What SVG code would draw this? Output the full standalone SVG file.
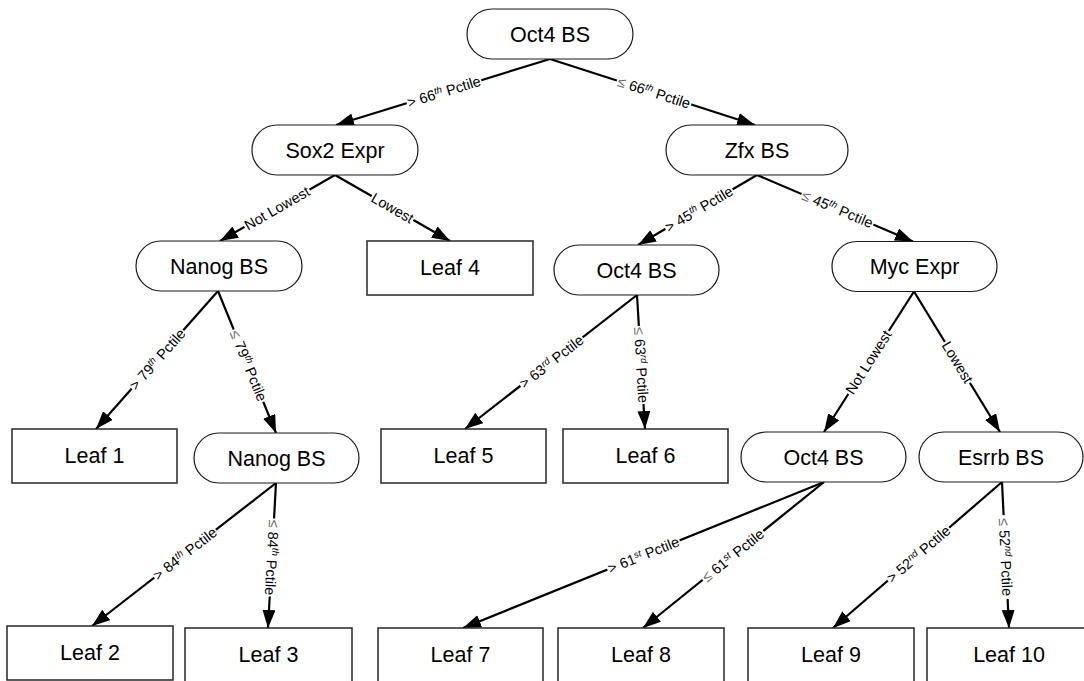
<svg xmlns="http://www.w3.org/2000/svg" width="1084" height="681" viewBox="0 0 1084 681">
  <style>
    .dec rect { fill: #fff; stroke: #1a1a1a; stroke-width: 1.2; }
    .leaf rect { fill: #fff; stroke: #262626; stroke-width: 1.5; }
    .nlabel { font-family: "Liberation Sans", Arial, sans-serif; font-size: 21.5px; fill: #000; text-anchor: middle; }
    .edge { stroke: #000; stroke-width: 2.2; fill: none; marker-end: url(#arrow); }
    .elabel text { font-family: "Liberation Sans", Arial, sans-serif; font-size: 14.5px; fill: #000; text-anchor: middle; }
    .elabel rect { fill: #fff; stroke: none; }
    .sup { font-size: 9.5px; font-style: italic; }
    .le { fill: #6a6a6a; }
  </style>
  <defs>
    <marker id="arrow" markerUnits="userSpaceOnUse" markerWidth="19" markerHeight="14" refX="18" refY="6.5" orient="auto">
      <path d="M0,0 L18,6.5 L0,13 Z" fill="#000"/>
    </marker>
  </defs>
  <rect width="1084" height="681" fill="#fff"/>

  <!-- connectors -->
  <g id="connectors">
    <line class="edge" x1="550" y1="59" x2="336" y2="125"/>
    <line class="edge" x1="550" y1="59" x2="755" y2="125"/>
    <line class="edge" x1="335" y1="175" x2="220" y2="241"/>
    <line class="edge" x1="335" y1="175" x2="450" y2="241"/>
    <line class="edge" x1="757" y1="175" x2="638" y2="245"/>
    <line class="edge" x1="757" y1="175" x2="913" y2="241.5"/>
    <line class="edge" x1="218" y1="291" x2="96" y2="429"/>
    <line class="edge" x1="218" y1="291" x2="276" y2="433"/>
    <line class="edge" x1="637" y1="295" x2="465" y2="429"/>
    <line class="edge" x1="637" y1="295" x2="645" y2="429"/>
    <line class="edge" x1="914" y1="291.5" x2="824" y2="432"/>
    <line class="edge" x1="914" y1="291.5" x2="1000" y2="432"/>
    <line class="edge" x1="276" y1="483" x2="92" y2="626"/>
    <line class="edge" x1="276" y1="483" x2="268" y2="628"/>
    <line class="edge" x1="824" y1="482" x2="463" y2="628"/>
    <line class="edge" x1="824" y1="482" x2="643" y2="628"/>
    <line class="edge" x1="1002" y1="482" x2="833" y2="628"/>
    <line class="edge" x1="1002" y1="482" x2="1009" y2="628"/>

    <!-- edge labels, each on a white backing that breaks the line -->
    <g class="elabel" transform="translate(444 91.7) rotate(-17.1)">
      <rect x="-39" y="-8" width="78" height="16"/>
      <text y="5">&gt; 66<tspan class="sup" dy="-5">th</tspan><tspan dy="5"> Pctile</tspan></text>
    </g>
    <g class="elabel" transform="translate(654 92.5) rotate(17.8)">
      <rect x="-39" y="-8" width="78" height="16"/>
      <text y="5"><tspan class="le">≤</tspan> 66<tspan class="sup" dy="-5">th</tspan><tspan dy="5"> Pctile</tspan></text>
    </g>
    <g class="elabel" transform="translate(277 208.3) rotate(-29.9)">
      <rect x="-37.5" y="-8" width="75" height="16"/>
      <text y="5">Not Lowest</text>
    </g>
    <g class="elabel" transform="translate(392.5 208) rotate(29.9)">
      <rect x="-24" y="-8" width="48" height="16"/>
      <text y="5">Lowest</text>
    </g>
    <g class="elabel" transform="translate(699 209.1) rotate(-30.5)">
      <rect x="-39" y="-8" width="78" height="16"/>
      <text y="5">&gt; 45<tspan class="sup" dy="-5">th</tspan><tspan dy="5"> Pctile</tspan></text>
    </g>
    <g class="elabel" transform="translate(837.5 209.1) rotate(22.9)">
      <rect x="-39" y="-8" width="78" height="16"/>
      <text y="5"><tspan class="le">≤</tspan> 45<tspan class="sup" dy="-5">th</tspan><tspan dy="5"> Pctile</tspan></text>
    </g>
    <g class="elabel" transform="translate(157.5 359.4) rotate(-48.5)">
      <rect x="-39" y="-8" width="78" height="16"/>
      <text y="5">&gt; 79<tspan class="sup" dy="-5">th</tspan><tspan dy="5"> Pctile</tspan></text>
    </g>
    <g class="elabel" transform="translate(248.5 365.7) rotate(67.8)">
      <rect x="-39" y="-8" width="78" height="16"/>
      <text y="5"><tspan class="le">≤</tspan> 79<tspan class="sup" dy="-5">th</tspan><tspan dy="5"> Pctile</tspan></text>
    </g>
    <g class="elabel" transform="translate(551.5 361.6) rotate(-37.9)">
      <rect x="-39.5" y="-8" width="79" height="16"/>
      <text y="5">&gt; 63<tspan class="sup" dy="-5">rd</tspan><tspan dy="5"> Pctile</tspan></text>
    </g>
    <g class="elabel" transform="translate(641.2 365) rotate(86.6)">
      <rect x="-39" y="-8" width="78" height="16"/>
      <text y="5"><tspan class="le">≤</tspan> 63<tspan class="sup" dy="-5">rd</tspan><tspan dy="5"> Pctile</tspan></text>
    </g>
    <g class="elabel" transform="translate(868.5 362.3) rotate(-57.4)">
      <rect x="-37.5" y="-8" width="75" height="16"/>
      <text y="5">Not Lowest</text>
    </g>
    <g class="elabel" transform="translate(957.5 362.3) rotate(58.6)">
      <rect x="-24" y="-8" width="48" height="16"/>
      <text y="5">Lowest</text>
    </g>
    <g class="elabel" transform="translate(185 553.7) rotate(-37.85)">
      <rect x="-39" y="-8" width="78" height="16"/>
      <text y="5">&gt; 84<tspan class="sup" dy="-5">th</tspan><tspan dy="5"> Pctile</tspan></text>
    </g>
    <g class="elabel" transform="translate(271.9 557.5) rotate(93.2)">
      <rect x="-39" y="-8" width="78" height="16"/>
      <text y="5"><tspan class="le">≤</tspan> 84<tspan class="sup" dy="-5">th</tspan><tspan dy="5"> Pctile</tspan></text>
    </g>
    <g class="elabel" transform="translate(643.5 555) rotate(-22)">
      <rect x="-39" y="-8" width="78" height="16"/>
      <text y="5">&gt; 61<tspan class="sup" dy="-5">st</tspan><tspan dy="5"> Pctile</tspan></text>
    </g>
    <g class="elabel" transform="translate(733 555.4) rotate(-38.9)">
      <rect x="-39" y="-8" width="78" height="16"/>
      <text y="5"><tspan class="le">≤</tspan> 61<tspan class="sup" dy="-5">st</tspan><tspan dy="5"> Pctile</tspan></text>
    </g>
    <g class="elabel" transform="translate(918.5 554.1) rotate(-40.8)">
      <rect x="-40.5" y="-8" width="81" height="16"/>
      <text y="5">&gt; 52<tspan class="sup" dy="-5">nd</tspan><tspan dy="5"> Pctile</tspan></text>
    </g>
    <g class="elabel" transform="translate(1005.6 557) rotate(87.3)">
      <rect x="-42" y="-8" width="84" height="16"/>
      <text y="5"><tspan class="le">≤</tspan> 52<tspan class="sup" dy="-5">nd</tspan><tspan dy="5">  Pctile</tspan></text>
    </g>
  </g>

  <!-- decision nodes -->
  <g id="n-oct4-root" class="dec"><rect x="467" y="9" width="166" height="50" rx="25"/><text class="nlabel" x="550" y="41.7">Oct4 BS</text></g>
  <g id="n-sox2" class="dec"><rect x="252" y="125" width="166" height="50" rx="25"/><text class="nlabel" x="335" y="157.7">Sox2 Expr</text></g>
  <g id="n-zfx" class="dec"><rect x="666" y="125" width="182" height="50" rx="25"/><text class="nlabel" x="757" y="157.7">Zfx BS</text></g>
  <g id="n-nanog-1" class="dec"><rect x="136" y="241" width="166" height="50" rx="25"/><text class="nlabel" x="219" y="273.7">Nanog BS</text></g>
  <g id="n-oct4-2" class="dec"><rect x="554" y="245" width="165" height="50" rx="25"/><text class="nlabel" x="636.5" y="277.7">Oct4 BS</text></g>
  <g id="n-myc" class="dec"><rect x="832" y="241.5" width="165" height="50" rx="25"/><text class="nlabel" x="914.5" y="274.2">Myc Expr</text></g>
  <g id="n-nanog-2" class="dec"><rect x="194" y="433" width="165" height="50" rx="25"/><text class="nlabel" x="276.5" y="465.7">Nanog BS</text></g>
  <g id="n-oct4-3" class="dec"><rect x="741" y="432" width="165" height="50" rx="25"/><text class="nlabel" x="823.5" y="464.7">Oct4 BS</text></g>
  <g id="n-esrrb" class="dec"><rect x="919" y="432" width="164" height="50" rx="25"/><text class="nlabel" x="1001" y="464.7">Esrrb BS</text></g>

  <!-- leaves -->
  <g id="leaf-1" class="leaf"><rect x="12" y="429" width="165" height="54"/><text class="nlabel" x="94.5" y="463">Leaf 1</text></g>
  <g id="leaf-2" class="leaf"><rect x="7" y="626" width="166" height="54"/><text class="nlabel" x="90" y="660">Leaf 2</text></g>
  <g id="leaf-3" class="leaf"><rect x="185" y="628" width="167" height="54"/><text class="nlabel" x="268.5" y="662">Leaf 3</text></g>
  <g id="leaf-4" class="leaf"><rect x="367" y="241" width="166" height="54"/><text class="nlabel" x="450" y="275">Leaf 4</text></g>
  <g id="leaf-5" class="leaf"><rect x="381" y="429" width="165" height="54"/><text class="nlabel" x="463.5" y="463">Leaf 5</text></g>
  <g id="leaf-6" class="leaf"><rect x="563" y="429" width="165" height="54"/><text class="nlabel" x="645.5" y="463">Leaf 6</text></g>
  <g id="leaf-7" class="leaf"><rect x="378" y="628" width="165" height="54"/><text class="nlabel" x="460.5" y="662">Leaf 7</text></g>
  <g id="leaf-8" class="leaf"><rect x="558" y="628" width="166" height="54"/><text class="nlabel" x="641" y="662">Leaf 8</text></g>
  <g id="leaf-9" class="leaf"><rect x="748" y="628" width="166" height="54"/><text class="nlabel" x="831" y="662">Leaf 9</text></g>
  <g id="leaf-10" class="leaf"><rect x="927" y="628" width="164" height="54"/><text class="nlabel" x="1009" y="662">Leaf 10</text></g>
</svg>
